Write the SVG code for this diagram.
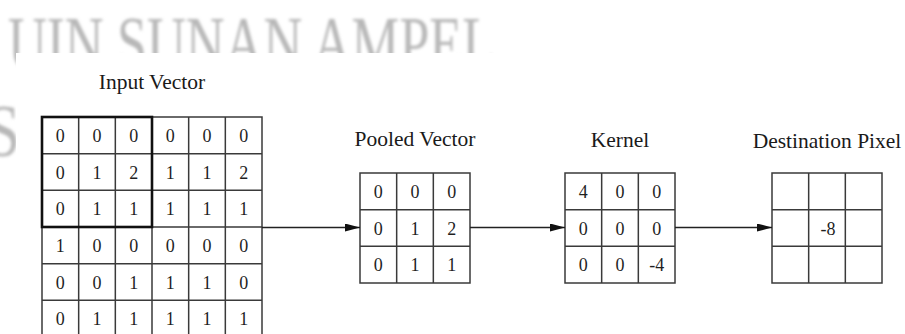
<svg xmlns="http://www.w3.org/2000/svg" width="905" height="334" viewBox="0 0 905 334">
  <style>
    .title { font-family: "Liberation Serif", "Times New Roman", serif; font-size: 21.5px; fill: #1a1a1a; text-anchor: middle; }
    .num { font-family: "Liberation Serif", "Times New Roman", serif; font-size: 18px; fill: #1f1f1f; text-anchor: middle; }
    .grid { fill: #ffffff; stroke: #3a3a3a; stroke-width: 1.5; }
    .gl { stroke: #3a3a3a; stroke-width: 1.5; fill: none; }
    .focus { fill: none; stroke: #111111; stroke-width: 2.6; }
    .wire { stroke: #222222; stroke-width: 1.3; fill: none; }
    .wm { font-family: "Liberation Serif", "Times New Roman", serif; font-size: 75px; fill: #b8b8b8; }
  </style>
  <defs>
    <marker id="head" markerWidth="15" markerHeight="8" refX="15" refY="4" orient="auto" markerUnits="userSpaceOnUse">
      <path d="M0,0 L15,4 L0,8 Z" fill="#111111"/>
    </marker>
    <filter id="soft" x="-5%" y="-20%" width="110%" height="140%">
      <feGaussianBlur stdDeviation="1.8"/>
    </filter>
    <!-- the watermark only shows above and left of the figure panel -->
    <clipPath id="margin">
      <path d="M0,0H905V53H16V334H0Z"/>
    </clipPath>
  </defs>

  <rect x="0" y="0" width="905" height="334" fill="#ffffff"/>

  <!-- background watermark -->
  <g id="watermark" clip-path="url(#margin)">
    <g filter="url(#soft)">
      <text class="wm" x="8" y="68" textLength="487" lengthAdjust="spacingAndGlyphs">UIN SUNAN AMPEL</text>
      <text class="wm" x="-14" y="156" textLength="34" lengthAdjust="spacingAndGlyphs">S</text>
    </g>
  </g>

  <!-- Input Vector: 6x6 grid with the 3x3 window outlined -->
  <g id="input-vector">
    <text class="title" x="152" y="89">Input Vector</text>
    <rect class="grid" x="42" y="117" width="220" height="220"/>
    <path class="gl" d="M78.67,117V337M115.33,117V337M152,117V337M188.67,117V337M225.33,117V337
                        M42,153.67H262M42,190.33H262M42,227H262M42,263.67H262M42,300.33H262"/>
    <rect class="focus" x="42" y="117" width="110" height="110"/>
    <g class="num">
      <text x="60.3" y="141.8">0</text><text x="97" y="141.8">0</text><text x="133.7" y="141.8">0</text><text x="170.3" y="141.8">0</text><text x="207" y="141.8">0</text><text x="243.7" y="141.8">0</text>
      <text x="60.3" y="178.5">0</text><text x="97" y="178.5">1</text><text x="133.7" y="178.5">2</text><text x="170.3" y="178.5">1</text><text x="207" y="178.5">1</text><text x="243.7" y="178.5">2</text>
      <text x="60.3" y="215.1">0</text><text x="97" y="215.1">1</text><text x="133.7" y="215.1">1</text><text x="170.3" y="215.1">1</text><text x="207" y="215.1">1</text><text x="243.7" y="215.1">1</text>
      <text x="60.3" y="251.8">1</text><text x="97" y="251.8">0</text><text x="133.7" y="251.8">0</text><text x="170.3" y="251.8">0</text><text x="207" y="251.8">0</text><text x="243.7" y="251.8">0</text>
      <text x="60.3" y="288.5">0</text><text x="97" y="288.5">0</text><text x="133.7" y="288.5">1</text><text x="170.3" y="288.5">1</text><text x="207" y="288.5">1</text><text x="243.7" y="288.5">0</text>
      <text x="60.3" y="325.1">0</text><text x="97" y="325.1">1</text><text x="133.7" y="325.1">1</text><text x="170.3" y="325.1">1</text><text x="207" y="325.1">1</text><text x="243.7" y="325.1">1</text>
    </g>
  </g>

  <!-- Pooled Vector: 3x3 -->
  <g id="pooled-vector">
    <text class="title" x="415" y="146">Pooled Vector</text>
    <rect class="grid" x="360" y="173" width="110" height="110"/>
    <path class="gl" d="M396.67,173V283M433.33,173V283M360,209.67H470M360,246.33H470"/>
    <g class="num">
      <text x="378.3" y="197.8">0</text><text x="415" y="197.8">0</text><text x="451.7" y="197.8">0</text>
      <text x="378.3" y="234.5">0</text><text x="415" y="234.5">1</text><text x="451.7" y="234.5">2</text>
      <text x="378.3" y="271.1">0</text><text x="415" y="271.1">1</text><text x="451.7" y="271.1">1</text>
    </g>
  </g>

  <!-- Kernel: 3x3 -->
  <g id="kernel">
    <text class="title" x="620" y="147">Kernel</text>
    <rect class="grid" x="565" y="173" width="110" height="110"/>
    <path class="gl" d="M601.67,173V283M638.33,173V283M565,209.67H675M565,246.33H675"/>
    <g class="num">
      <text x="583.3" y="197.8">4</text><text x="620" y="197.8">0</text><text x="656.7" y="197.8">0</text>
      <text x="583.3" y="234.5">0</text><text x="620" y="234.5">0</text><text x="656.7" y="234.5">0</text>
      <text x="583.3" y="271.1">0</text><text x="620" y="271.1">0</text><text x="656.7" y="271.1">-4</text>
    </g>
  </g>

  <!-- Destination Pixel: 3x3 with the centre result -->
  <g id="destination-pixel">
    <text class="title" x="827" y="148">Destination Pixel</text>
    <rect class="grid" x="772" y="173" width="110" height="110"/>
    <path class="gl" d="M808.67,173V283M845.33,173V283M772,209.67H882M772,246.33H882"/>
    <text class="num" x="828" y="234.5">-8</text>
  </g>

  <!-- connectors -->
  <g id="connectors">
    <line class="wire" x1="262" y1="227.5" x2="360" y2="227.5" marker-end="url(#head)"/>
    <line class="wire" x1="470" y1="227.5" x2="565" y2="227.5" marker-end="url(#head)"/>
    <line class="wire" x1="675" y1="227.5" x2="772" y2="227.5" marker-end="url(#head)"/>
  </g>
</svg>
